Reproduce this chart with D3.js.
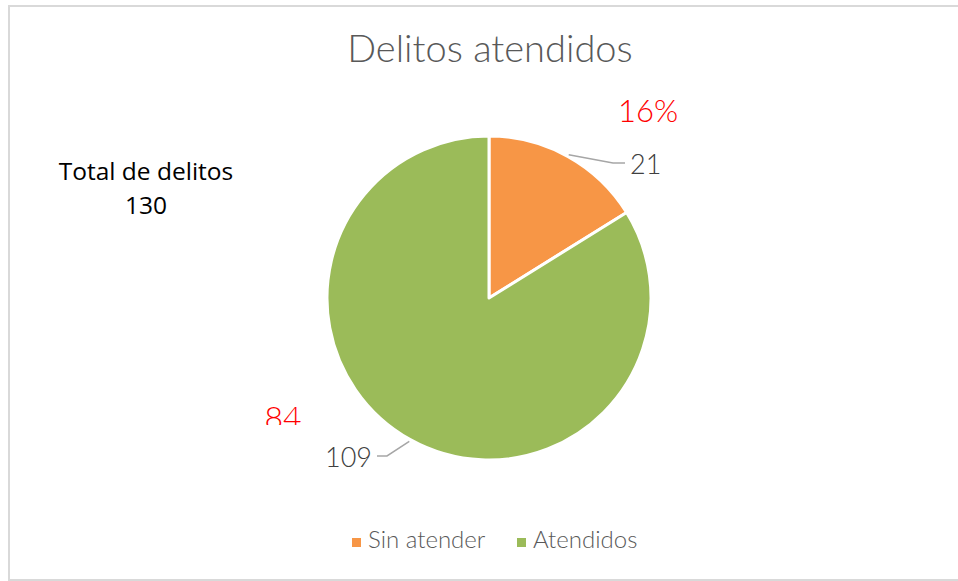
<!DOCTYPE html>
<html>
<head>
<meta charset="utf-8">
<script src="https://cdn.jsdelivr.net/npm/d3@7"></script>
<style>
  html, body { margin: 0; padding: 0; background: #fff; }
  svg { display: block; }
</style>
</head>
<body>
<svg id="chart" width="958" height="581"></svg>
<script>
const title = "Delitos atendidos";
const categories = ["Sin atender", "Atendidos"];
const values = [21, 109];
const colors = ["#F79646", "#9BBB59"];
const redLabels = ["16%", "84"];
const totalLabel = ["Total de delitos", "130"];

const W = 958, H = 581;
const svg = d3.select("#chart");
const lightFont = "Lato, 'Open Sans', sans-serif";

// border
svg.append("rect")
  .attr("x", 9).attr("y", 6).attr("width", W).attr("height", 574)
  .attr("fill", "none").attr("stroke", "#D9D9D9").attr("stroke-width", 2);

// title
svg.append("text")
  .attr("x", 490).attr("y", 62)
  .attr("text-anchor", "middle")
  .attr("font-family", lightFont).attr("font-weight", 300)
  .attr("font-size", 38).attr("fill", "#595959")
  .text(title);

const cx = 489, cy = 298, R = 162;
const g = svg.append("g").attr("transform", `translate(${cx},${cy})`);

const pie = d3.pie().sort(null).value(d => d);
const arcs = pie(values);
const arc = d3.arc().innerRadius(0).outerRadius(R);

g.selectAll("path.slice").data(arcs).enter().append("path")
  .attr("class", "slice")
  .attr("d", arc)
  .attr("fill", (d, i) => colors[i])
  .attr("stroke", "#fff").attr("stroke-width", 3).attr("stroke-linejoin", "round");

// data labels with leader lines
const lineArc = d3.arc().innerRadius(R + 2).outerRadius(R + 2);
const labelCfg = [
  { elbow: [124, -135], end: [136, -135], anchor: "start", tx: 141, ty: -135 },
  { elbow: [-102, 158], end: [-112, 158], anchor: "end", tx: -117, ty: 158 }
];
arcs.forEach((d, i) => {
  const mid = (d.startAngle + d.endAngle) / 2;
  const p0 = lineArc.centroid({ startAngle: mid, endAngle: mid });
  const c = labelCfg[i];
  g.append("polyline")
    .attr("points", [p0, c.elbow, c.end].map(p => p.join(",")).join(" "))
    .attr("fill", "none").attr("stroke", "#A6A6A6").attr("stroke-width", 1.5);
  g.append("text")
    .attr("x", c.tx).attr("y", c.ty)
    .attr("text-anchor", c.anchor)
    .attr("dominant-baseline", "central")
    .attr("font-family", lightFont).attr("font-weight", 300)
    .attr("font-size", 27).attr("fill", "#404040")
    .text(values[i]);
});

// red annotation labels
const defs = svg.append("defs");
defs.append("clipPath").attr("id", "clip84")
  .append("rect").attr("x", 240).attr("y", 390).attr("width", 100).attr("height", 35);

svg.append("text")
  .attr("x", 648).attr("y", 122)
  .attr("text-anchor", "middle")
  .attr("font-family", lightFont).attr("font-weight", 300)
  .attr("font-size", 31).attr("fill", "#FF0000")
  .text(redLabels[0]);

svg.append("text")
  .attr("x", 283).attr("y", 429)
  .attr("text-anchor", "middle")
  .attr("clip-path", "url(#clip84)")
  .attr("font-family", lightFont).attr("font-weight", 300)
  .attr("font-size", 32).attr("fill", "#FF0000")
  .text(redLabels[1]);

// total text
const tt = svg.append("text")
  .attr("text-anchor", "middle")
  .attr("font-family", "'Open Sans', 'Liberation Sans', sans-serif")
  .attr("font-size", 24.5).attr("fill", "#000");
totalLabel.forEach((t, i) => {
  tt.append("tspan").attr("x", 146).attr("y", 180 + i * 34).text(t);
});

// legend
const legX = [352, 517];
const leg = svg.append("g");
categories.forEach((c, i) => {
  leg.append("rect")
    .attr("x", legX[i]).attr("y", 538).attr("width", 9).attr("height", 9)
    .attr("fill", colors[i]);
  leg.append("text")
    .attr("x", legX[i] + 16).attr("y", 548)
    .attr("font-family", lightFont).attr("font-weight", 300)
    .attr("font-size", 24).attr("fill", "#595959")
    .text(c);
});
</script>
</body>
</html>
